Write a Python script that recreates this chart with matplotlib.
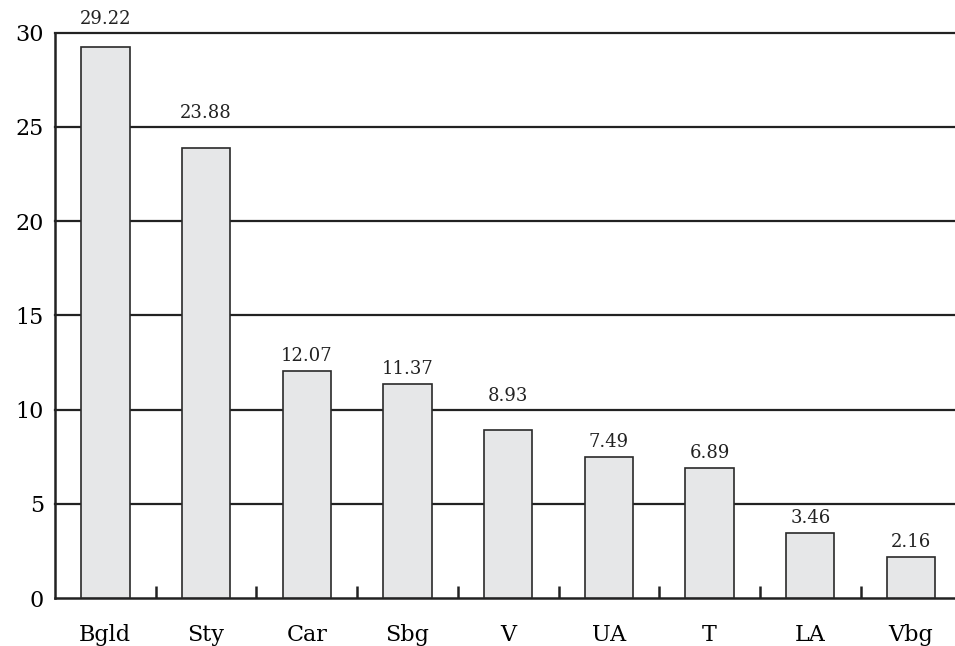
import matplotlib.pyplot as plt
import numpy as np

# data
regions = ["Bgld", "Sty", "Car", "Sbg", "V", "UA", "T", "LA", "Vbg"]
values = [29.22, 23.88, 12.07, 11.37, 8.93, 7.49, 6.89, 3.46, 2.16]
yticks = [0, 5, 10, 15, 20, 25, 30]

plt.rcParams['font.family'] = ['DejaVu Serif']

fig = plt.figure(figsize=(9.55, 6.46), dpi=100)
ax = fig.add_axes([0.0576, 0.0743, 0.949, 0.875])

x = np.arange(len(regions))
ax.bar(x, values, width=0.48, color='#e6e7e8', edgecolor='#2a2a2a', linewidth=1.2, zorder=3)

# horizontal lines behind the bars
for yv in yticks[1:]:
    ax.axhline(yv, color='#222222', lw=1.6, zorder=1, clip_on=False)

# value labels: sit just above the bar, or above a gridline if they would cross it
gap = 0.53      # baseline above bar top (data units)
txt_h = 0.75    # approx label height (data units)
for xi, v in zip(x, values):
    base = v + gap
    for g in yticks[1:]:
        if base - 0.1 < g < base + txt_h:
            base = g + 0.45
    ax.text(xi, base, f"{v:.2f}", ha='center', va='baseline', fontsize=13,
            color='#222222', zorder=4)

ax.set_xlim(-0.5, 8.5)
ax.set_ylim(0, 30)
ax.set_yticks(yticks)
ax.set_yticklabels([str(t) for t in yticks], fontsize=16)
ax.tick_params(axis='y', length=0, pad=8)

# category labels, ticks between the bars
ax.set_xticks(x)
ax.set_xticklabels(regions, fontsize=16)
ax.tick_params(axis='x', length=0, pad=19)
ax.set_xticks(np.arange(0.5, len(regions), 1), minor=True)
ax.tick_params(axis='x', which='minor', direction='in', length=9, width=1.8, color='#222222')

for s in ['top', 'right']:
    ax.spines[s].set_visible(False)
for s in ['left', 'bottom']:
    ax.spines[s].set_linewidth(1.8)
    ax.spines[s].set_color('#222222')

fig.savefig("out.png", dpi=100)
